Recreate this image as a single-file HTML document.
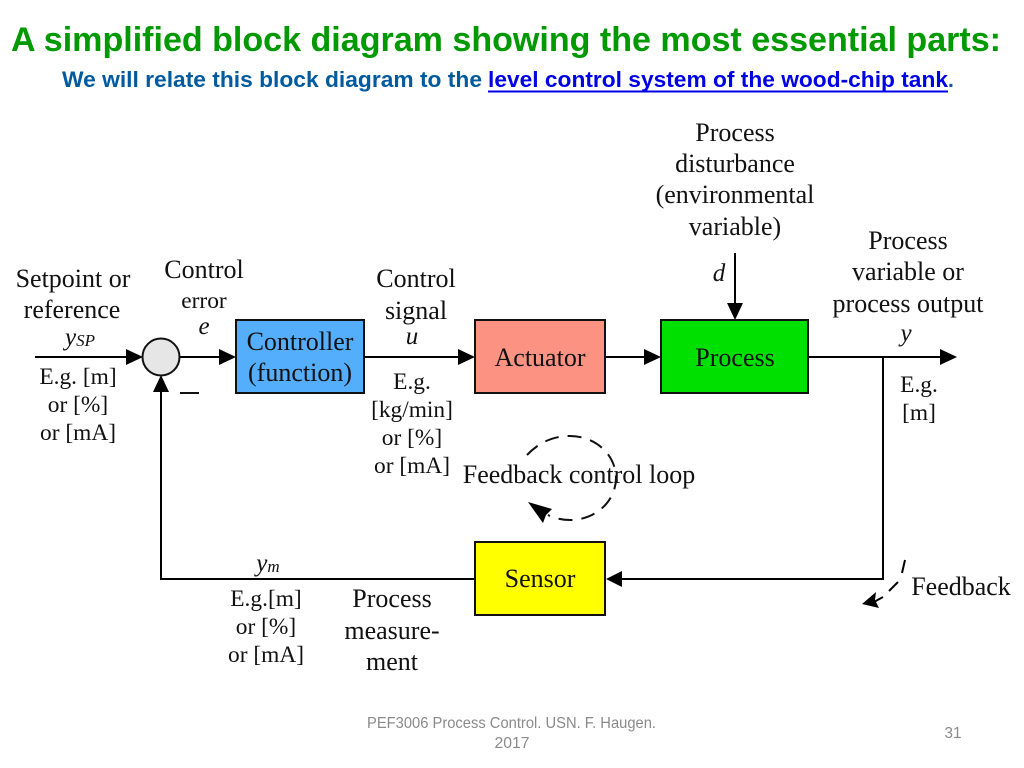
<!DOCTYPE html>
<html>
<head>
<meta charset="utf-8">
<style>
html,body{margin:0;padding:0;background:#fff;width:1024px;height:768px;overflow:hidden}
svg{display:block}
.t{font-family:"Liberation Serif",serif;font-size:26px;fill:#111;text-anchor:middle}
.s{font-family:"Liberation Serif",serif;font-size:23.4px;fill:#111;text-anchor:middle}
.i{font-family:"Liberation Serif",serif;font-size:25px;font-style:italic;fill:#111;text-anchor:middle}
.sub{font-size:17px}
.f{font-family:"Liberation Sans",sans-serif;font-size:16px;fill:#8a8a8a;text-anchor:middle}
.b{stroke:#111;stroke-width:2}
.l{stroke:#000;stroke-width:2;fill:none}
</style>
</head>
<body>
<svg width="1024" height="768" viewBox="0 0 1024 768" xmlns="http://www.w3.org/2000/svg">
<text x="11" y="51" font-family="Liberation Sans, sans-serif" font-weight="700" font-size="34px" fill="#009900" textLength="990" lengthAdjust="spacingAndGlyphs">A simplified block diagram showing the most essential parts:</text>
<text x="62" y="87" font-family="Liberation Sans, sans-serif" font-weight="700" font-size="22px" fill="#005a9e" textLength="420" lengthAdjust="spacingAndGlyphs">We will relate this block diagram to the</text>
<text x="488" y="87" font-family="Liberation Sans, sans-serif" font-weight="700" font-size="22px" fill="#0000e6" textLength="460" lengthAdjust="spacingAndGlyphs">level control system of the wood-chip tank</text>
<rect x="488" y="90.500" width="460" height="2" fill="#0000e6"/>
<text x="948" y="87" font-family="Liberation Sans, sans-serif" font-weight="700" font-size="21px" fill="#005a9e">.</text>

<!-- lines -->
<path class="l" d="M35 357H130"/>
<path class="l" d="M180 357H222"/>
<path class="l" d="M364 357H460"/>
<path class="l" d="M605 357H646"/>
<path class="l" d="M808 357H942"/>
<path class="l" d="M883 357V579H620"/>
<path class="l" d="M475 579H161V390"/>
<path class="l" d="M735 253V305"/>
<rect x="180" y="392" width="19" height="2" fill="#111"/>

<!-- arrowheads -->
<path d="M126 349L143 357L126 365Z" fill="#000"/>
<path d="M219 349L236 357L219 365Z" fill="#000"/>
<path d="M458 349L475 357L458 365Z" fill="#000"/>
<path d="M644 349L661 357L644 365Z" fill="#000"/>
<path d="M940 349L957 357L940 365Z" fill="#000"/>
<path d="M622 571L606 579L622 587Z" fill="#000"/>
<path d="M153 392L161 375L169 392Z" fill="#000"/>
<path d="M727 303L735 320L743 303Z" fill="#000"/>

<!-- junction -->
<circle cx="161" cy="357" r="18.500" fill="#e6e6e6" stroke="#111" stroke-width="2"/>

<!-- boxes -->
<rect class="b" x="236" y="320" width="128" height="73" fill="#55aefc"/>
<rect class="b" x="475" y="320" width="130" height="73" fill="#fb9282"/>
<rect class="b" x="661" y="320" width="147" height="73" fill="#00e000"/>
<rect class="b" x="475" y="542" width="130" height="73" fill="#ffff00"/>

<text class="t" x="300" y="350">Controller</text>
<text class="t" x="300" y="381">(function)</text>
<text class="t" x="540" y="366">Actuator</text>
<text class="t" x="735" y="366">Process</text>
<text class="t" x="540" y="587">Sensor</text>

<!-- dashed loop -->
<path d="M527 455Q545 436 570 436A46 42 0 0 1 616 478A46 42 0 0 1 570 520Q558 520 548 515" fill="none" stroke="#111" stroke-width="2" stroke-dasharray="14 9"/>
<path d="M528 502L552 509L546 515L543 523Z" fill="#000"/>

<!-- feedback dashed -->
<path class="l" d="M905 560L902 573M898 582L889 591M883 597L874 602"/>
<path d="M862 604L876 592L875 600L879 608Z" fill="#000"/>

<!-- labels -->
<text class="t" x="735" y="141">Process</text>
<text class="t" x="735" y="172">disturbance</text>
<text class="t" x="735" y="203">(environmental</text>
<text class="t" x="735" y="235">variable)</text>
<text class="t" x="908" y="249">Process</text>
<text class="t" x="908" y="280">variable or</text>
<text class="t" x="908" y="312">process output</text>
<text class="i" x="906" y="341">y</text>
<text class="i" x="719" y="281">d</text>

<text class="t" x="73" y="287">Setpoint or</text>
<text class="t" x="72" y="318">reference</text>
<text class="i" x="80" y="345">y<tspan class="sub" dy="1">SP</tspan></text>
<text class="s" x="78" y="384">E.g. [m]</text>
<text class="s" x="78" y="412">or [%]</text>
<text class="s" x="78" y="440">or [mA]</text>

<text class="t" x="204" y="278">Control</text>
<text class="s" x="204" y="308">error</text>
<text class="i" x="204" y="334">e</text>

<text class="t" x="416" y="287">Control</text>
<text class="t" x="416" y="319">signal</text>
<text class="i" x="412" y="344">u</text>
<text class="s" x="412" y="389">E.g.</text>
<text class="s" x="412" y="417">[kg/min]</text>
<text class="s" x="412" y="445">or [%]</text>
<text class="s" x="412" y="473">or [mA]</text>

<text class="s" x="919" y="392">E.g.</text>
<text class="s" x="919" y="420">[m]</text>

<text class="t" x="579" y="483">Feedback control loop</text>
<text class="t" x="961" y="595">Feedback</text>

<text class="i" x="268" y="571">y<tspan class="sub" dy="1">m</tspan></text>
<text class="s" x="266" y="606">E.g.[m]</text>
<text class="s" x="266" y="634">or [%]</text>
<text class="s" x="266" y="662">or [mA]</text>
<text class="t" x="392" y="607">Process</text>
<text class="t" x="392" y="639">measure-</text>
<text class="t" x="392" y="670">ment</text>

<!-- footer -->
<text class="f" x="511.500" y="728" textLength="289" lengthAdjust="spacingAndGlyphs">PEF3006 Process Control. USN. F. Haugen.</text>
<text class="f" x="512" y="748" textLength="35" lengthAdjust="spacingAndGlyphs">2017</text>
<text class="f" x="953" y="738" textLength="17" lengthAdjust="spacingAndGlyphs">31</text>
</svg>
</body>
</html>
